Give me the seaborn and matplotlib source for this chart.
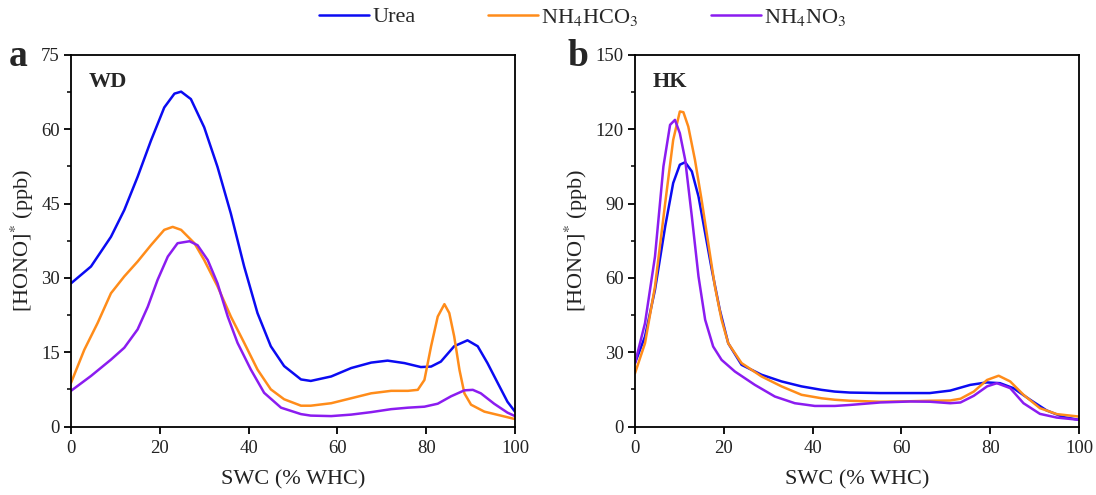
import numpy as np
import pandas as pd
import matplotlib
matplotlib.use("Agg")
import matplotlib.pyplot as plt
import seaborn as sns
from matplotlib.lines import Line2D

# ---------------- data ----------------
series_names = ["Urea", "NH$_4$HCO$_3$", "NH$_4$NO$_3$"]
colors = ["#0B0BF2", "#FF8C1A", "#8B1CF0"]

# Panel a (WD)
wd_urea_x = [0, 4.5, 9, 12, 15, 18, 21, 23.3, 24.8, 27, 30, 33, 36, 39, 42, 45, 48, 51.8,
             54, 58.6, 63.1, 67.6, 71.3, 75.1, 78.8, 81.1, 83.3, 86.3, 89.3, 91.6, 93.8, 96.1, 98.3, 100]
wd_urea_y = [28.9, 32.3, 38.3, 43.7, 50.4, 57.7, 64.4, 67.2, 67.6, 66.1, 60.4, 52.4, 43.0, 32.3, 22.9, 16.2, 12.2, 9.5,
             9.2, 10.1, 11.8, 12.9, 13.3, 12.8, 12.0, 12.1, 13.1, 16.2, 17.4, 16.2, 12.8, 8.8, 5.0, 3.0]
wd_nh4hco3_x = [0, 3, 6, 9, 12, 15, 18, 21, 22.9, 24.8, 27.8, 30, 33, 36, 39, 42, 45, 48, 51.8,
                54, 58.6, 63.1, 67.6, 72.1, 75.9, 78.1, 79.6, 81.1, 82.6, 84.1, 85.2, 86.3, 87.5, 88.6, 90.1, 93.1, 96.8, 100]
wd_nh4hco3_y = [8.8, 15.5, 20.9, 26.9, 30.3, 33.3, 36.6, 39.7, 40.3, 39.7, 37.0, 33.6, 28.3, 22.2, 16.9, 11.5, 7.5, 5.5, 4.2,
                4.2, 4.7, 5.7, 6.7, 7.2, 7.2, 7.4, 9.4, 16.2, 22.2, 24.7, 22.9, 18.2, 11.4, 6.7, 4.4, 3.0, 2.2, 1.5]
wd_nh4no3_x = [0, 4.5, 9, 12, 15, 17.3, 19.5, 21.8, 24, 26.7, 28.5, 30.8, 33, 35.3, 37.5, 40.5, 43.5, 47.3, 51.8,
               54, 58.6, 63.1, 67.6, 72.1, 75.9, 79.6, 82.6, 85.6, 88.6, 90.5, 92.3, 95.3, 98.3, 100]
wd_nh4no3_y = [7.2, 10.2, 13.5, 15.9, 19.6, 24.2, 29.6, 34.3, 37.0, 37.4, 36.6, 33.6, 28.9, 22.2, 16.9, 11.5, 6.8, 3.8, 2.5,
               2.2, 2.1, 2.4, 2.9, 3.5, 3.8, 4.0, 4.6, 6.1, 7.3, 7.4, 6.7, 4.6, 2.8, 2.1]

# Panel b (HK)
hk_urea_x = [0, 2.25, 4.5, 6.8, 8.6, 10.1, 11.3, 12.8, 14.3, 15.8, 17.3, 19.1, 21, 24, 28.5, 33, 37.5, 42, 45,
             48.4, 55.2, 66.4, 71, 75.5, 79.2, 82.2, 85.2, 89, 92.7, 96.5, 100]
hk_urea_y = [25.6, 36.3, 55.2, 80.8, 98.3, 105.7, 106.7, 103.0, 92.9, 78.1, 63.3, 47.1, 33.6, 24.9, 20.9, 18.2, 16.2, 14.8, 14.1,
             13.7, 13.5, 13.5, 14.5, 16.8, 17.8, 17.5, 15.5, 10.8, 6.5, 3.8, 2.7]
hk_nh4hco3_x = [0, 2.25, 4.5, 6.8, 8.6, 10.1, 10.9, 12, 13.5, 15, 16.5, 18, 19.5, 21, 24, 28.5, 33, 37.5, 42, 45,
                48.4, 55.2, 62, 66.4, 71, 73.3, 76.3, 79.3, 81.9, 84.5, 87.5, 91.2, 95, 100]
hk_nh4hco3_y = [21.5, 33.6, 56.5, 90.2, 115.7, 127.2, 126.9, 121.1, 107.7, 91.5, 74.0, 56.5, 43.1, 33.6, 25.6, 20.2, 16.2, 12.8, 11.4, 10.8,
                10.4, 10.0, 10.2, 10.4, 10.5, 11.2, 14.1, 18.8, 20.5, 18.2, 12.8, 7.4, 5.0, 4.0]
hk_nh4no3_x = [0, 2.25, 4.5, 6.4, 7.9, 9, 10.1, 11.3, 12.8, 14.3, 15.8, 17.6, 19.5, 22.5, 27, 31.5, 36, 40.5, 45,
               48.4, 55.2, 62, 66.4, 71, 73.3, 76.3, 79.3, 81.5, 84.5, 87.5, 91.2, 95, 100]
hk_nh4no3_y = [25.6, 41.7, 68.6, 105.0, 121.8, 123.8, 118.4, 107.7, 84.8, 60.6, 43.1, 32.3, 26.9, 22.2, 16.8, 12.1, 9.4, 8.3, 8.3,
               8.7, 9.7, 10.1, 10.0, 9.4, 9.7, 12.4, 16.2, 17.5, 15.5, 9.4, 5.1, 3.6, 2.7]

panel_labels = ["a", "b"]
site_labels = ["WD", "HK"]
x_ticks = [0, 20, 40, 60, 80, 100]
y_ticks_a = [0, 15, 30, 45, 60, 75]
y_ticks_b = [0, 30, 60, 90, 120, 150]

# ---------------- build frames ----------------
def make_df(xs, ys):
    rows = []
    for name, x, y in zip(series_names, xs, ys):
        for xi, yi in zip(x, y):
            rows.append({"SWC": xi, "HONO": yi, "Fertilizer": name})
    return pd.DataFrame(rows)

df_a = make_df([wd_urea_x, wd_nh4hco3_x, wd_nh4no3_x], [wd_urea_y, wd_nh4hco3_y, wd_nh4no3_y])
df_b = make_df([hk_urea_x, hk_nh4hco3_x, hk_nh4no3_x], [hk_urea_y, hk_nh4hco3_y, hk_nh4no3_y])

# ---------------- style ----------------
sns.set_theme(style="ticks")
plt.rcParams["font.family"] = ["Liberation Serif", "DejaVu Serif"]
plt.rcParams["mathtext.fontset"] = "stix"
plt.rcParams["axes.linewidth"] = 1.3
plt.rcParams["xtick.major.width"] = 1.3
plt.rcParams["ytick.major.width"] = 1.3
plt.rcParams["ytick.minor.width"] = 1.1
plt.rcParams["xtick.major.size"] = 5
plt.rcParams["ytick.major.size"] = 5
plt.rcParams["ytick.minor.size"] = 3
plt.rcParams["axes.edgecolor"] = "black"

fig = plt.figure(figsize=(10.96, 4.95), dpi=100)
W, H = 1096, 495
ax_a = fig.add_axes([71 / W, 1 - 426.5 / H, 444 / W, 371.5 / H])
ax_b = fig.add_axes([635 / W, 1 - 426.5 / H, 444 / W, 371.5 / H])

palette = dict(zip(series_names, colors))

for ax, df, yt, sl in [(ax_a, df_a, y_ticks_a, site_labels[0]),
                       (ax_b, df_b, y_ticks_b, site_labels[1])]:
    sns.lineplot(data=df, x="SWC", y="HONO", hue="Fertilizer", palette=palette,
                 hue_order=series_names, sort=True, estimator=None, lw=1.8,
                 ax=ax, legend=False)
    ax.set_xlim(0, 100)
    ax.set_ylim(yt[0], yt[-1])
    ax.set_xticks(x_ticks)
    ax.set_yticks(yt)
    ax.set_yticks([(yt[i] + yt[i + 1]) / 2 for i in range(len(yt) - 1)], minor=True)
    ax.tick_params(axis="both", which="both", direction="out", labelsize=13.5,
                   colors="black", labelcolor="#222222")
    ax.tick_params(axis="x", pad=5)
    ax.tick_params(axis="y", pad=3)
    ax.set_xlabel("SWC (% WHC)", fontsize=16, labelpad=9, color="#222222")
    ax.set_ylabel("[HONO]$^{*}$ (ppb)", fontsize=16, labelpad=4, color="#222222")
    for s in ax.spines.values():
        s.set_visible(True)
        s.set_color("black")
    ax.text(0.04, 0.955, sl, transform=ax.transAxes, fontsize=16, fontweight="bold",
            va="top", ha="left")

fig.text(9 / W, 1 - 56 / H, panel_labels[0], fontsize=27, fontweight="bold", va="center", ha="left")
fig.text(568 / W, 1 - 56 / H, panel_labels[1], fontsize=27, fontweight="bold", va="center", ha="left")

handles = [Line2D([0], [0], color=c, lw=1.8) for c in colors]
fig.legend(handles, series_names, loc="center", bbox_to_anchor=(0.532, 1 - 17 / H), ncol=3,
           frameon=False, fontsize=16, handlelength=2.25, handletextpad=0.15, columnspacing=3.25)

fig.savefig("out.png", dpi=100)
